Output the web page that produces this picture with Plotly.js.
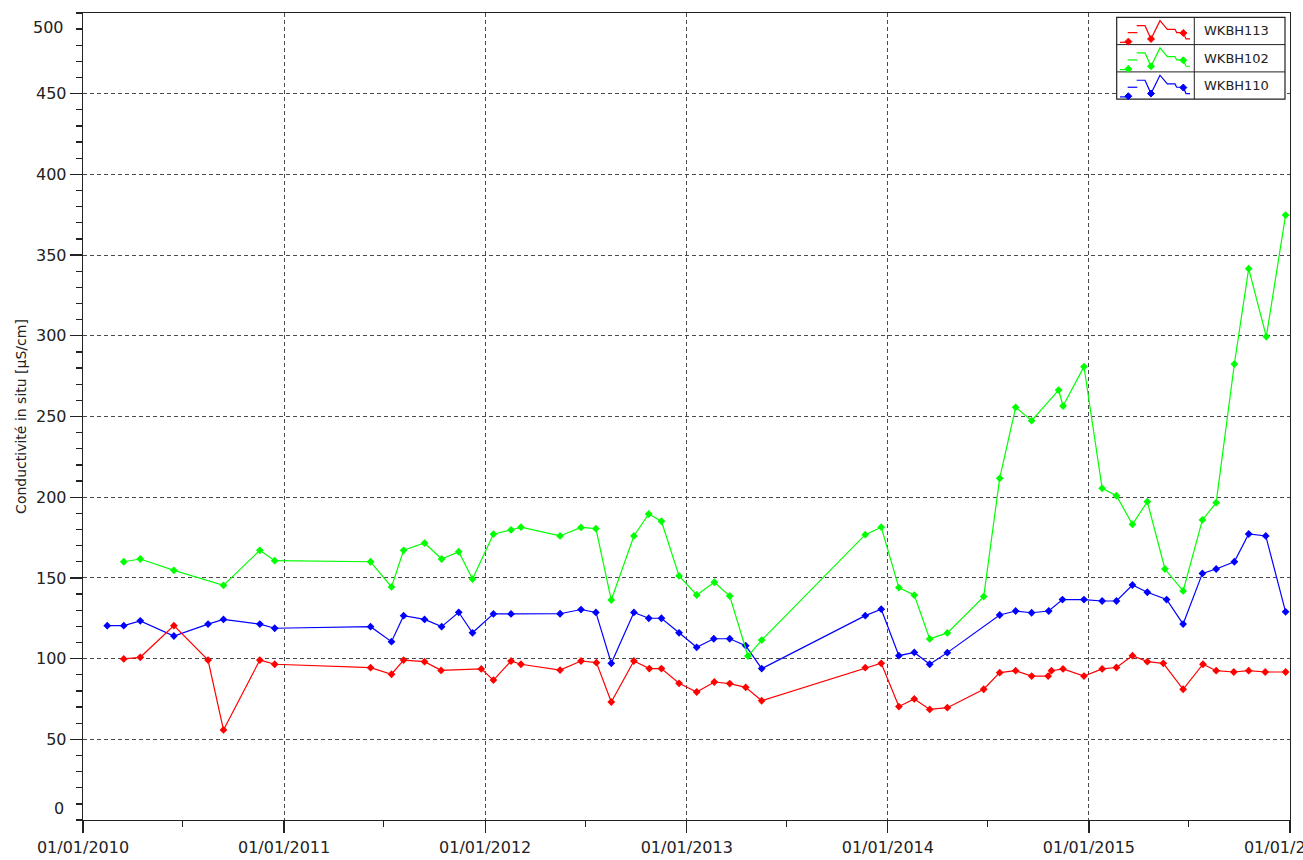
<!DOCTYPE html>
<html>
<head>
<meta charset="utf-8">
<script src="https://cdn.plot.ly/plotly-3.0.1.min.js"></script>
<style>html,body{margin:0;padding:0;background:#fff;}#chart{width:1303px;height:860px;}</style>
</head>
<body>
<div id="chart"></div>
<script>
// ---- data ----
const seriesNames = ["WKBH113", "WKBH102", "WKBH110"];
const seriesColors = ["#ff0000", "#00ff00", "#0000ff"];

const redDates = ["2010-03-16","2010-04-15","2010-06-15","2010-08-16","2010-09-13","2010-11-18","2010-12-15",
  "2011-06-07","2011-07-15","2011-08-06","2011-09-13","2011-10-13","2011-12-25",
  "2012-01-16","2012-02-17","2012-03-06","2012-05-16","2012-06-23","2012-07-21","2012-08-17","2012-09-27","2012-10-25","2012-11-16","2012-12-18",
  "2013-01-19","2013-02-20","2013-03-20","2013-04-18","2013-05-17","2013-11-21","2013-12-20",
  "2014-01-21","2014-02-18","2014-03-18","2014-04-19","2014-06-24","2014-07-23","2014-08-21","2014-09-19","2014-10-19","2014-10-25","2014-11-15","2014-12-23",
  "2015-01-25","2015-02-20","2015-03-21","2015-04-17","2015-05-16","2015-06-21","2015-07-27","2015-08-20","2015-09-21","2015-10-18","2015-11-17","2015-12-24"];
const redValues = [99.8,100.8,120.4,99.1,55.8,99.1,96.5,
  94.4,90.3,99.1,98.1,92.7,93.6,
  86.7,98.5,96.5,92.9,98.5,97.5,73.1,98.5,93.8,93.8,84.7,
  79.3,85.5,84.5,82.2,73.9,94.4,97.1,
  70.3,75.0,68.5,69.6,81.0,91.3,92.5,89.2,89.2,92.5,93.6,89.2,
  93.6,94.5,101.8,98.1,97.1,81.0,96.5,92.5,91.7,92.5,91.7,91.7];

const greenDates = ["2010-03-16","2010-04-15","2010-06-15","2010-09-13","2010-11-18","2010-12-15",
  "2011-06-07","2011-07-15","2011-08-06","2011-09-13","2011-10-14","2011-11-14","2011-12-09",
  "2012-01-16","2012-02-17","2012-03-06","2012-05-16","2012-06-23","2012-07-20","2012-08-17","2012-09-27","2012-10-24","2012-11-16","2012-12-18",
  "2013-01-19","2013-02-20","2013-03-20","2013-04-22","2013-05-17","2013-11-21","2013-12-20",
  "2014-01-21","2014-02-18","2014-03-18","2014-04-19","2014-06-24","2014-07-23","2014-08-21","2014-09-19","2014-11-07","2014-11-15","2014-12-23",
  "2015-01-25","2015-02-20","2015-03-21","2015-04-17","2015-05-19","2015-06-21","2015-07-26","2015-08-20","2015-09-22","2015-10-18","2015-11-19","2015-12-24"];
const greenValues = [160.0,161.7,154.7,145.4,167.1,160.7,
  160.0,144.4,167.1,171.6,161.7,166.2,149.3,
  177.1,179.7,181.4,176.0,181.3,180.5,136.3,176.0,189.6,185.1,151.2,
  139.4,147.3,138.8,101.6,111.5,176.8,181.4,
  144.0,139.3,112.2,115.9,138.4,211.7,255.7,247.4,266.4,256.5,280.9,
  205.5,200.9,183.2,197.2,155.5,141.9,185.9,196.6,282.5,341.6,299.5,374.8];

const blueDates = ["2010-02-14","2010-03-16","2010-04-15","2010-06-15","2010-08-16","2010-09-13","2010-11-18","2010-12-15",
  "2011-06-07","2011-07-15","2011-08-06","2011-09-13","2011-10-14","2011-11-14","2011-12-09",
  "2012-01-16","2012-02-17","2012-05-16","2012-06-23","2012-07-20","2012-08-17","2012-09-27","2012-10-24","2012-11-16","2012-12-18",
  "2013-01-19","2013-02-19","2013-03-20","2013-04-18","2013-05-17","2013-11-21","2013-12-20",
  "2014-01-21","2014-02-18","2014-03-18","2014-04-19","2014-07-23","2014-08-21","2014-09-19","2014-10-20","2014-11-14","2014-12-23",
  "2015-01-25","2015-02-20","2015-03-21","2015-04-17","2015-05-22","2015-06-21","2015-07-26","2015-08-20","2015-09-22","2015-10-18","2015-11-18","2015-12-24"];
const blueValues = [120.4,120.4,123.4,114.0,121.4,124.3,121.4,118.8,
  119.8,110.5,126.6,124.3,119.8,128.7,116.0,
  127.7,127.7,127.8,130.4,128.6,97.1,128.6,125.0,125.0,116.0,
  107.0,112.3,112.3,108.0,93.8,126.6,130.6,
  101.8,103.8,96.5,103.7,127.0,129.5,128.4,129.5,136.6,136.6,
  135.7,135.7,145.6,141.1,136.6,121.4,152.8,155.5,160.0,177.2,176.0,129.0];

const yAxisTitle = "Conductivité in situ [µS/cm]";
const xRange = ["2010-01-01", "2016-01-01"];
const yRange = [0, 500];
const yInnerTicks = [50, 100, 150, 200, 250, 300, 350, 400, 450];
const yEndTicks = [0, 500];

// ---- layout constants (pixels) ----
const W = 1303, H = 860;
const ML = 83, MR = 13, MT = 13, MB = 40;
const PW = W - ML - MR, PH = H - MT - MB;
const px = x => (x - ML) / PW;
const py = y => (H - MB - y) / PH;
const FONT = "DejaVu Sans, Arial, sans-serif";

const allDates = [redDates, greenDates, blueDates];
const allValues = [redValues, greenValues, blueValues];

const traces = [2, 1, 0].map(i => ({
  type: "scatter", mode: "lines+markers",
  x: allDates[i], y: allValues[i], name: seriesNames[i],
  line: {color: seriesColors[i], width: 1.2},
  marker: {color: seriesColors[i], symbol: "diamond", size: 6},
  showlegend: false, hoverinfo: "skip"
}));

// ---- custom table-style legend ----
const shapes = [], annotations = [];
const LX0 = 1116.7, LX1 = 1194.3, LX2 = 1285, LY0 = 17.3, ROWH = 27.3;
shapes.push({type: "rect", xref: "paper", yref: "paper", x0: px(LX0), x1: px(LX2), y0: py(LY0 + 3 * ROWH), y1: py(LY0),
  line: {color: "#222", width: 1.2}, fillcolor: "#ffffff", layer: "above"});
shapes.push({type: "line", xref: "paper", yref: "paper", x0: px(LX1), x1: px(LX1), y0: py(LY0 + 3 * ROWH), y1: py(LY0),
  line: {color: "#222", width: 1}, layer: "above"});
for (let r = 1; r < 3; r++) {
  shapes.push({type: "line", xref: "paper", yref: "paper", x0: px(LX0), x1: px(LX2), y0: py(LY0 + r * ROWH), y1: py(LY0 + r * ROWH),
    line: {color: "#222", width: 1}, layer: "above"});
}
const samplePieces = [
  [[120,75],[152,75]],
  [[143,46],[172,46]],
  [[170,25],[195,25],[213,65],[240,10],[262,36],[285,36],[290,46],[310,46],[318,65],[330,65]]
];
const sampleMarks = [[145,73],[213,65],[310,47]];
for (let r = 0; r < 3; r++) {
  const top = LY0 + r * ROWH;
  const col = seriesColors[r];
  samplePieces.forEach(pc => {
    const d = pc.map((p, k) => (k ? "L" : "M") + px(1080 + p[0] / 3).toFixed(5) + "," + py(top + p[1] / 3).toFixed(5)).join(" ");
    shapes.push({type: "path", xref: "paper", yref: "paper", path: d, line: {color: col, width: 1.2}, layer: "above"});
  });
  sampleMarks.forEach(m => {
    const cx = 1080 + m[0] / 3, cy = top + m[1] / 3, s = 3.5;
    const d = "M" + px(cx - s) + "," + py(cy) + " L" + px(cx) + "," + py(cy - s) + " L" + px(cx + s) + "," + py(cy) + " L" + px(cx) + "," + py(cy + s) + " Z";
    shapes.push({type: "path", xref: "paper", yref: "paper", path: d, line: {color: col, width: 1}, fillcolor: col, layer: "above"});
  });
  annotations.push({xref: "paper", yref: "paper", x: px(1202), y: py(top + ROWH / 2), xanchor: "left", yanchor: "middle",
    text: seriesNames[r], showarrow: false, font: {family: FONT, size: 13, color: "#222"}});
}
// end labels of the y axis sit slightly inside the axis range in the reference
yEndTicks.forEach(v => {
  annotations.push({xref: "paper", yref: "y", x: 0, y: v, xanchor: "right", yanchor: "middle",
    xshift: -17, yshift: v === yRange[0] ? 12 : -14, text: String(v), showarrow: false,
    font: {family: FONT, size: 16, color: "#222"}});
});

const axisCommon = {
  showline: true, linecolor: "#222", linewidth: 1.3, mirror: true,
  ticks: "outside", ticklen: 12, tickwidth: 1.3, tickcolor: "#222",
  showgrid: true, gridcolor: "#4a4a4a", gridwidth: 1, griddash: "4px,3px",
  zeroline: false,
  tickfont: {family: FONT, size: 16, color: "#222"}
};

const layout = {
  width: W, height: H,
  margin: {l: ML, r: MR, t: MT, b: MB, pad: 0},
  paper_bgcolor: "#fff", plot_bgcolor: "#fff",
  showlegend: false,
  xaxis: Object.assign({}, axisCommon, {
    type: "date", range: xRange, tick0: "2010-01-01", dtick: "M12", tickformat: "%d/%m/%Y",
    ticklabeloverflow: "allow",
    minor: {dtick: "M6", ticks: "outside", ticklen: 6, tickcolor: "#222", tickwidth: 1.3, showgrid: false},
    automargin: false
  }),
  yaxis: Object.assign({}, axisCommon, {
    range: yRange, tickmode: "array", tickvals: yInnerTicks, ticktext: yInnerTicks.map(String),
    minor: {dtick: 10, tick0: 0, ticks: "outside", ticklen: 6, tickcolor: "#222", tickwidth: 1.3, showgrid: false},
    title: {text: yAxisTitle, font: {family: FONT, size: 14, color: "#222"}, standoff: 6},
    automargin: false
  }),
  shapes: shapes,
  annotations: annotations
};

Plotly.newPlot("chart", traces, layout, {staticPlot: true, displayModeBar: false});
</script>
</body>
</html>
